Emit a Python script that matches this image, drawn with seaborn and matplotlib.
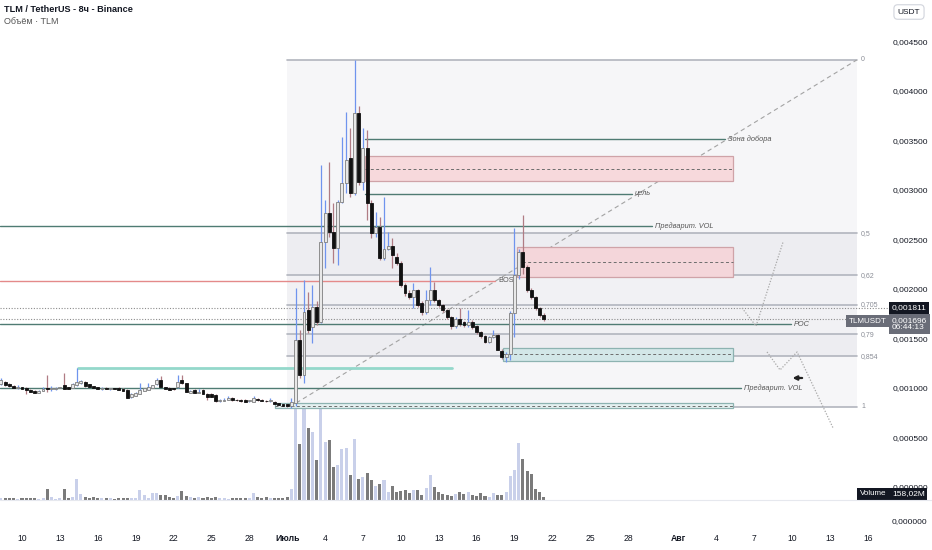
import numpy as np
import pandas as pd
import seaborn as sns
import matplotlib.pyplot as plt
from matplotlib.patches import Rectangle
from matplotlib.lines import Line2D

# 8h candles of TLM/USDT, prices in millionths of USDT
first_day = -5 / 3  # days from June 10, 00:00

opens = [1040, 1061, 1040, 1020, 1000, 1010, 1000, 980, 970, 950,
         970, 995, 985, 990, 1000, 1030, 1010, 1000, 1030, 1050,
         1061, 1040, 1020, 1010, 990, 995, 990, 995, 1000, 990,
         980, 909, 919, 939, 970, 980, 1000, 1040, 1081, 1010,
         1000, 995, 1010, 1081, 1050, 949, 980, 950, 980, 939,
         939, 929, 869, 869, 879, 899, 879, 875, 879, 865,
         859, 889, 880, 870, 865, 859, 848, 838, 838,
         820, 850, 1485, 1131, 1788, 1616, 1818, 1667, 2475, 2768,
         2576, 2414, 2879, 3071, 3323, 2970, 3778, 3081, 3424, 2869,
         2566, 2626, 2313, 2404, 2434, 2323, 2263, 2040, 1960, 1919,
         1990, 1859, 1768, 1889, 1990, 1889, 1838, 1788, 1717, 1626,
         1700, 1667, 1636, 1667, 1626, 1566, 1525, 1465, 1515, 1535,
         1374, 1313, 1343, 1758, 2141, 2374, 2222, 1990, 1919, 1808,
         1737]
highs = [1101, 1075, 1050, 1030, 1035, 1015, 1005, 985, 975, 975,
         1010, 1131, 1020, 1005, 1015, 1151, 1015, 1050, 1202, 1085,
         1075, 1045, 1025, 1015, 1010, 1005, 1000, 1000, 1005, 995,
         985, 945, 955, 1050, 1000, 1050, 1035, 1101, 1121, 1015,
         1005, 1000, 1131, 1131, 1055, 975, 985, 990, 985, 945,
         945, 935, 885, 899, 919, 905, 890, 885, 885, 880,
         919, 895, 885, 880, 899, 865, 850, 840, 840,
         900, 2010, 1586, 2091, 1970, 2040, 1880, 3252, 2899, 3283,
         2869, 2899, 3535, 3788, 3626, 4313, 3850, 3626, 3606, 2900,
         2778, 2727, 2929, 2576, 2515, 2360, 2280, 2060, 1990, 2061,
         2000, 1880, 1990, 2222, 2070, 1900, 1850, 1800, 1730, 1720,
         1808, 1680, 1788, 1690, 1640, 1580, 1540, 1530, 1586, 1545,
         1390, 1360, 1780, 2616, 2400, 2747, 2240, 2010, 1930, 1820,
         1760]
lows = [1030, 1025, 1010, 995, 990, 985, 940, 955, 945, 945,
        965, 960, 970, 980, 995, 985, 985, 995, 1025, 1040,
        1015, 1005, 995, 985, 980, 985, 980, 985, 975, 965,
        895, 900, 915, 935, 965, 975, 995, 1035, 1005, 985,
        975, 975, 1000, 1045, 955, 945, 945, 945, 935, 879,
        905, 859, 860, 865, 875, 870, 870, 860, 855, 860,
        855, 870, 865, 860, 860, 835, 825, 815, 808,
        800, 820, 1100, 1050, 1556, 1455, 1640, 1657, 2212, 2525,
        2263, 2242, 2869, 2970, 2929, 2950, 3050, 3000, 2697, 2515,
        2525, 2293, 2293, 2390, 2212, 2240, 2020, 1930, 1900, 1808,
        1820, 1740, 1750, 1838, 1870, 1820, 1770, 1700, 1600, 1610,
        1630, 1620, 1620, 1600, 1550, 1500, 1450, 1450, 1500, 1380,
        1290, 1260, 1280, 1515, 2100, 2150, 1970, 1900, 1790, 1720,
        1680]
closes = [1081, 1030, 1020, 1000, 1005, 990, 980, 960, 950, 970,
          990, 985, 995, 1000, 1015, 990, 990, 1040, 1061, 1071,
          1020, 1010, 1000, 990, 995, 990, 995, 990, 980, 970,
          899, 939, 949, 980, 1000, 1010, 1030, 1081, 1010, 990,
          980, 985, 1061, 1050, 960, 970, 950, 960, 939, 909,
          909, 869, 875, 879, 899, 879, 875, 865, 859, 875,
          899, 880, 870, 865, 875, 838, 828, 818, 818,
          860, 1485, 1131, 1768, 1586, 1818, 1667, 2475, 2768, 2576,
          2414, 2879, 3071, 3303, 2970, 3778, 3081, 3424, 2869, 2566,
          2626, 2313, 2404, 2434, 2343, 2263, 2040, 1960, 1919, 1990,
          1838, 1768, 1889, 1990, 1889, 1838, 1788, 1717, 1626, 1700,
          1646, 1636, 1667, 1616, 1566, 1525, 1465, 1515, 1535, 1384,
          1313, 1343, 1758, 2141, 2374, 2222, 1990, 1919, 1808, 1737,
          1696]
# volume, millions of TLM
volumes_m = [110, 95, 90, 95, 80, 100, 120, 110, 90, 80,
             90, 600, 150, 80, 110, 620, 130, 160, 1150, 330,
             140, 100, 160, 120, 90, 100, 90, 80, 100, 110,
             120, 100, 110, 550, 280, 120, 380, 380, 280, 250,
             170, 90, 220, 470, 220, 190, 110, 150, 120, 140,
             110, 190, 100, 90, 80, 110, 90, 100, 120, 110,
             380, 190, 100, 160, 90, 110, 130, 120, 150,
             590, 6050, 3080, 5800, 3960, 3740, 2200, 5390, 3190, 3300,
             1815, 1925, 2800, 2860, 1375, 3355, 1155, 1265, 1485, 1100,
             770, 880, 1100, 440, 770, 440, 495, 550, 385, 550,
             550, 275, 660, 1375, 690, 440, 330, 275, 220, 330,
             440, 330, 440, 275, 220, 385, 220, 140, 385, 275,
             275, 440, 1320, 1650, 3135, 2255, 1595, 1430, 605, 440,
             158]

# drawings (days from June 10, price in USDT)
fib_high, fib_low = 0.004313, 0.000808
fib_levels = [0, 0.5, 0.62, 0.705, 0.79, 0.854, 1]
fib_labels = ["0", "0,5", "0,62", "0,705", "0,79", "0,854", "1"]
fib_span = (21.0, 66.1)
last_price, mark_price = 0.001696, 0.001811

date_ticks = [0, 3, 6, 9, 12, 15, 18, 21, 24, 27, 30, 33, 36, 39, 42, 45, 48,
              52, 55, 58, 61, 64, 67]
date_labels = ["10", "13", "16", "19", "22", "25", "28", "Июль", "4", "7", "10",
               "13", "16", "19", "22", "25", "28", "Авг", "4", "7", "10", "13", "16"]

sns.set_theme(style="white")
plt.rcParams["font.family"] = ["Liberation Sans", "DejaVu Sans"]

o = np.array(opens) * 1e-6
h = np.array(highs) * 1e-6
l = np.array(lows) * 1e-6
c = np.array(closes) * 1e-6
days = first_day + np.arange(len(o)) / 3
up = c >= o

fig = plt.figure(figsize=(9.32, 5.5), dpi=100)
rect = [0, 24 / 550, 888 / 932, 526 / 550]
axv = fig.add_axes(rect)
ax = fig.add_axes(rect, sharex=axv)
ax.patch.set_alpha(0)

vol = pd.DataFrame({"day": days, "vol": volumes_m,
                    "dir": np.where(up, "up", "down")})
sns.barplot(data=vol, x="day", y="vol", hue="dir", native_scale=True,
            palette={"up": "#c9d0ea", "down": "#7b7b7b"}, dodge=False,
            width=0.72, errorbar=None, legend=False, saturation=1,
            linewidth=0, ax=axv)
axv.set_ylim(-26 * 55, 500 * 55)
axv.axis("off")

# pane separator under the volume
fig.add_artist(Line2D([0, 1], [1 - 500 / 550] * 2, color="#e6e8ee", lw=0.8))

# fib retracement
span = fib_high - fib_low
prices = [fib_high - lv * span for lv in fib_levels]
fills = ["#f6f6f8", "#ededf1", "#f1f1f4", "#f1f1f4", "#ededf1", "#f6f6f8"]
for k in range(len(prices) - 1):
    ax.add_patch(Rectangle((fib_span[0], prices[k + 1]), fib_span[1] - fib_span[0],
                           prices[k] - prices[k + 1], color=fills[k], lw=0, zorder=0))
for p, lab in zip(prices, fib_labels):
    ax.plot(fib_span, [p, p], color="#b2b5be", lw=1.2, zorder=1)
    ax.text(fib_span[1] + 0.35, p, lab, fontsize=5, color="#8a8d96", va="center")
ax.plot([21.2, fib_span[1]], [fib_low, fib_high], color="#a3a3a3", lw=0.8,
        ls=(0, (4, 3)), zorder=1)

# boxes
boxes = [(27.16, 56.31, 0.003091, 0.003343, "#f7d9dc", "#cfa3a8"),
         (39.2, 56.31, 0.002121, 0.002424, "#f4d6da", "#cfa3a8"),
         (38.09, 56.31, 0.001273, 0.001404, "#d3e7e8", "#8db3b1"),
         (20.04, 56.31, 0.000798, 0.000848, "#e4f0f0", "#8db3b1")]
for x0, x1, y0, y1, fc, ec in boxes:
    ax.add_patch(Rectangle((x0, y0), x1 - x0, y1 - y0, facecolor=fc, edgecolor=ec,
                           lw=0.9, zorder=1.5))
    ax.plot([x0, x1], [(y0 + y1) / 2] * 2, color="#6d6d6d", lw=0.7,
            ls=(0, (3, 2.5)), zorder=1.6)

# horizontal levels
x_left = -1.75
teal = "#4f7b73"
lines = [(x_left, 49.9, 0.002636, teal, 1.0, "Предварит. VOL"),
         (x_left, 37.46, 0.002081, "#e48a8a", 1.0, None),
         (x_left, 60.9, 0.001646, teal, 1.0, "POC"),
         (4.43, 34.05, 0.001202, "#94d8cb", 2.0, None),
         (x_left, 56.94, 0.001000, teal, 1.0, "Предварит. VOL"),
         (27.16, 55.67, 0.003515, teal, 1.0, "Зона добора"),
         (27.16, 48.3, 0.002960, teal, 1.0, "цель")]
for x0, x1, p, col, lw, lab in lines:
    ax.plot([x0, x1], [p, p], color=col, lw=lw, zorder=2)
    if lab:
        ax.text(x1 + 0.25, p, lab, fontsize=5.3, style="italic", color="#555",
                va="center")
ax.text(37.75, 0.002081, "BOS", fontsize=5.3, color="#555", va="center")
for p in (mark_price, last_price):
    ax.plot([x_left, 68.6], [p, p], color="#8c8c8c", lw=0.8, ls=(0, (1, 1.5)),
            zorder=2)

# projected paths
ax.plot([57.02, 58.13, 60.27], [0.001808, 0.001626, 0.002475], color="#a8a8a8",
        lw=0.9, ls=(0, (1, 1.3)), zorder=2)
ax.plot([59.0, 60.03, 61.38, 64.23], [0.001364, 0.001182, 0.001364, 0.000596],
        color="#a8a8a8", lw=0.9, ls=(0, (1, 1.3)), zorder=2)
ax.annotate("", xy=(60.8, 0.001101), xytext=(62.0, 0.001101),
            arrowprops=dict(arrowstyle="-|>", color="#222", lw=1.6,
                            mutation_scale=6))

# candles
wick_col = np.where(up, "#6f94ee", "#b07c84")
ax.vlines(days, l, h, colors=wick_col, lw=0.9, zorder=3)
body_lo = np.minimum(o, c)
body_h = np.maximum(np.abs(c - o), 8e-6)
ax.bar(days, body_h, bottom=body_lo, width=0.23,
       color=np.where(up, "#e8e8e8", "#111111"),
       edgecolor=np.where(up, "#7f7f7f", "#111111"), linewidth=0.6, zorder=4)

ax.set_xlim(-1.742, 68.58)
ax.set_ylim(-0.000394, 0.004919)
for s in ax.spines.values():
    s.set_visible(False)
ax.yaxis.tick_right()
ticks = np.arange(0, 0.00451, 0.0005)
ax.set_yticks(ticks)
ax.set_yticklabels([f"{t:.6f}".replace(".", ",") for t in ticks])
ax.set_xticks(date_ticks)
ax.set_xticklabels(date_labels)
for t in ax.get_xticklabels():
    if t.get_text() in ("Июль", "Авг"):
        t.set_fontweight("bold")
ax.tick_params(axis="both", length=0, labelsize=6.2, colors="#131722")
ax.tick_params(axis="y", pad=3.5, labelsize=6)
ax.tick_params(axis="x", pad=6)
ax.grid(False)

# price scale labels
yt = ax.get_yaxis_transform()
box = dict(boxstyle="square,pad=0.3", ec="none")
ax.text(1.0045, mark_price, "0,001811", transform=yt, fontsize=6, color="white",
        va="center", zorder=6, bbox=dict(box, fc="#131722"))
ax.text(1.0045, last_price - 0.00005, "0,001696\n06:44:13", transform=yt,
        fontsize=6, color="white", va="center", linespacing=1.15, zorder=6,
        bbox=dict(box, fc="#6a6d78"))
ax.text(0.998, last_price - 0.00002, "TLMUSDT", transform=yt, fontsize=5.8,
        color="white", va="center", ha="right", zorder=6,
        bbox=dict(box, fc="#6a6d78"))
ax.text(0.998, 0.061, "Volume", transform=ax.transAxes, fontsize=5.8,
        color="white", va="center", ha="right", zorder=6,
        bbox=dict(box, fc="#131722"))
ax.text(1.0045, 0.061, "158,02M", transform=ax.transAxes, fontsize=6,
        color="white", va="center", zorder=6, bbox=dict(box, fc="#131722"))
ax.text(1.0045, 0.008, "0,000000", transform=ax.transAxes, fontsize=6,
        color="#131722", va="center")

fig.text(4 / 932, 1 - 10 / 550, "TLM / TetherUS - 8ч - Binance", fontsize=6.6,
         fontweight="bold", color="#131722", va="center")
fig.text(4 / 932, 1 - 22 / 550, "Объём · TLM", fontsize=6.5, color="#555",
         va="center")
fig.text(909 / 932, 1 - 12 / 550, "USDT", fontsize=6, color="#131722",
         ha="center", va="center",
         bbox=dict(boxstyle="round,pad=0.45", fc="white", ec="#d1d4dc", lw=0.8))

fig.savefig("out.png", dpi=100, facecolor="white")
